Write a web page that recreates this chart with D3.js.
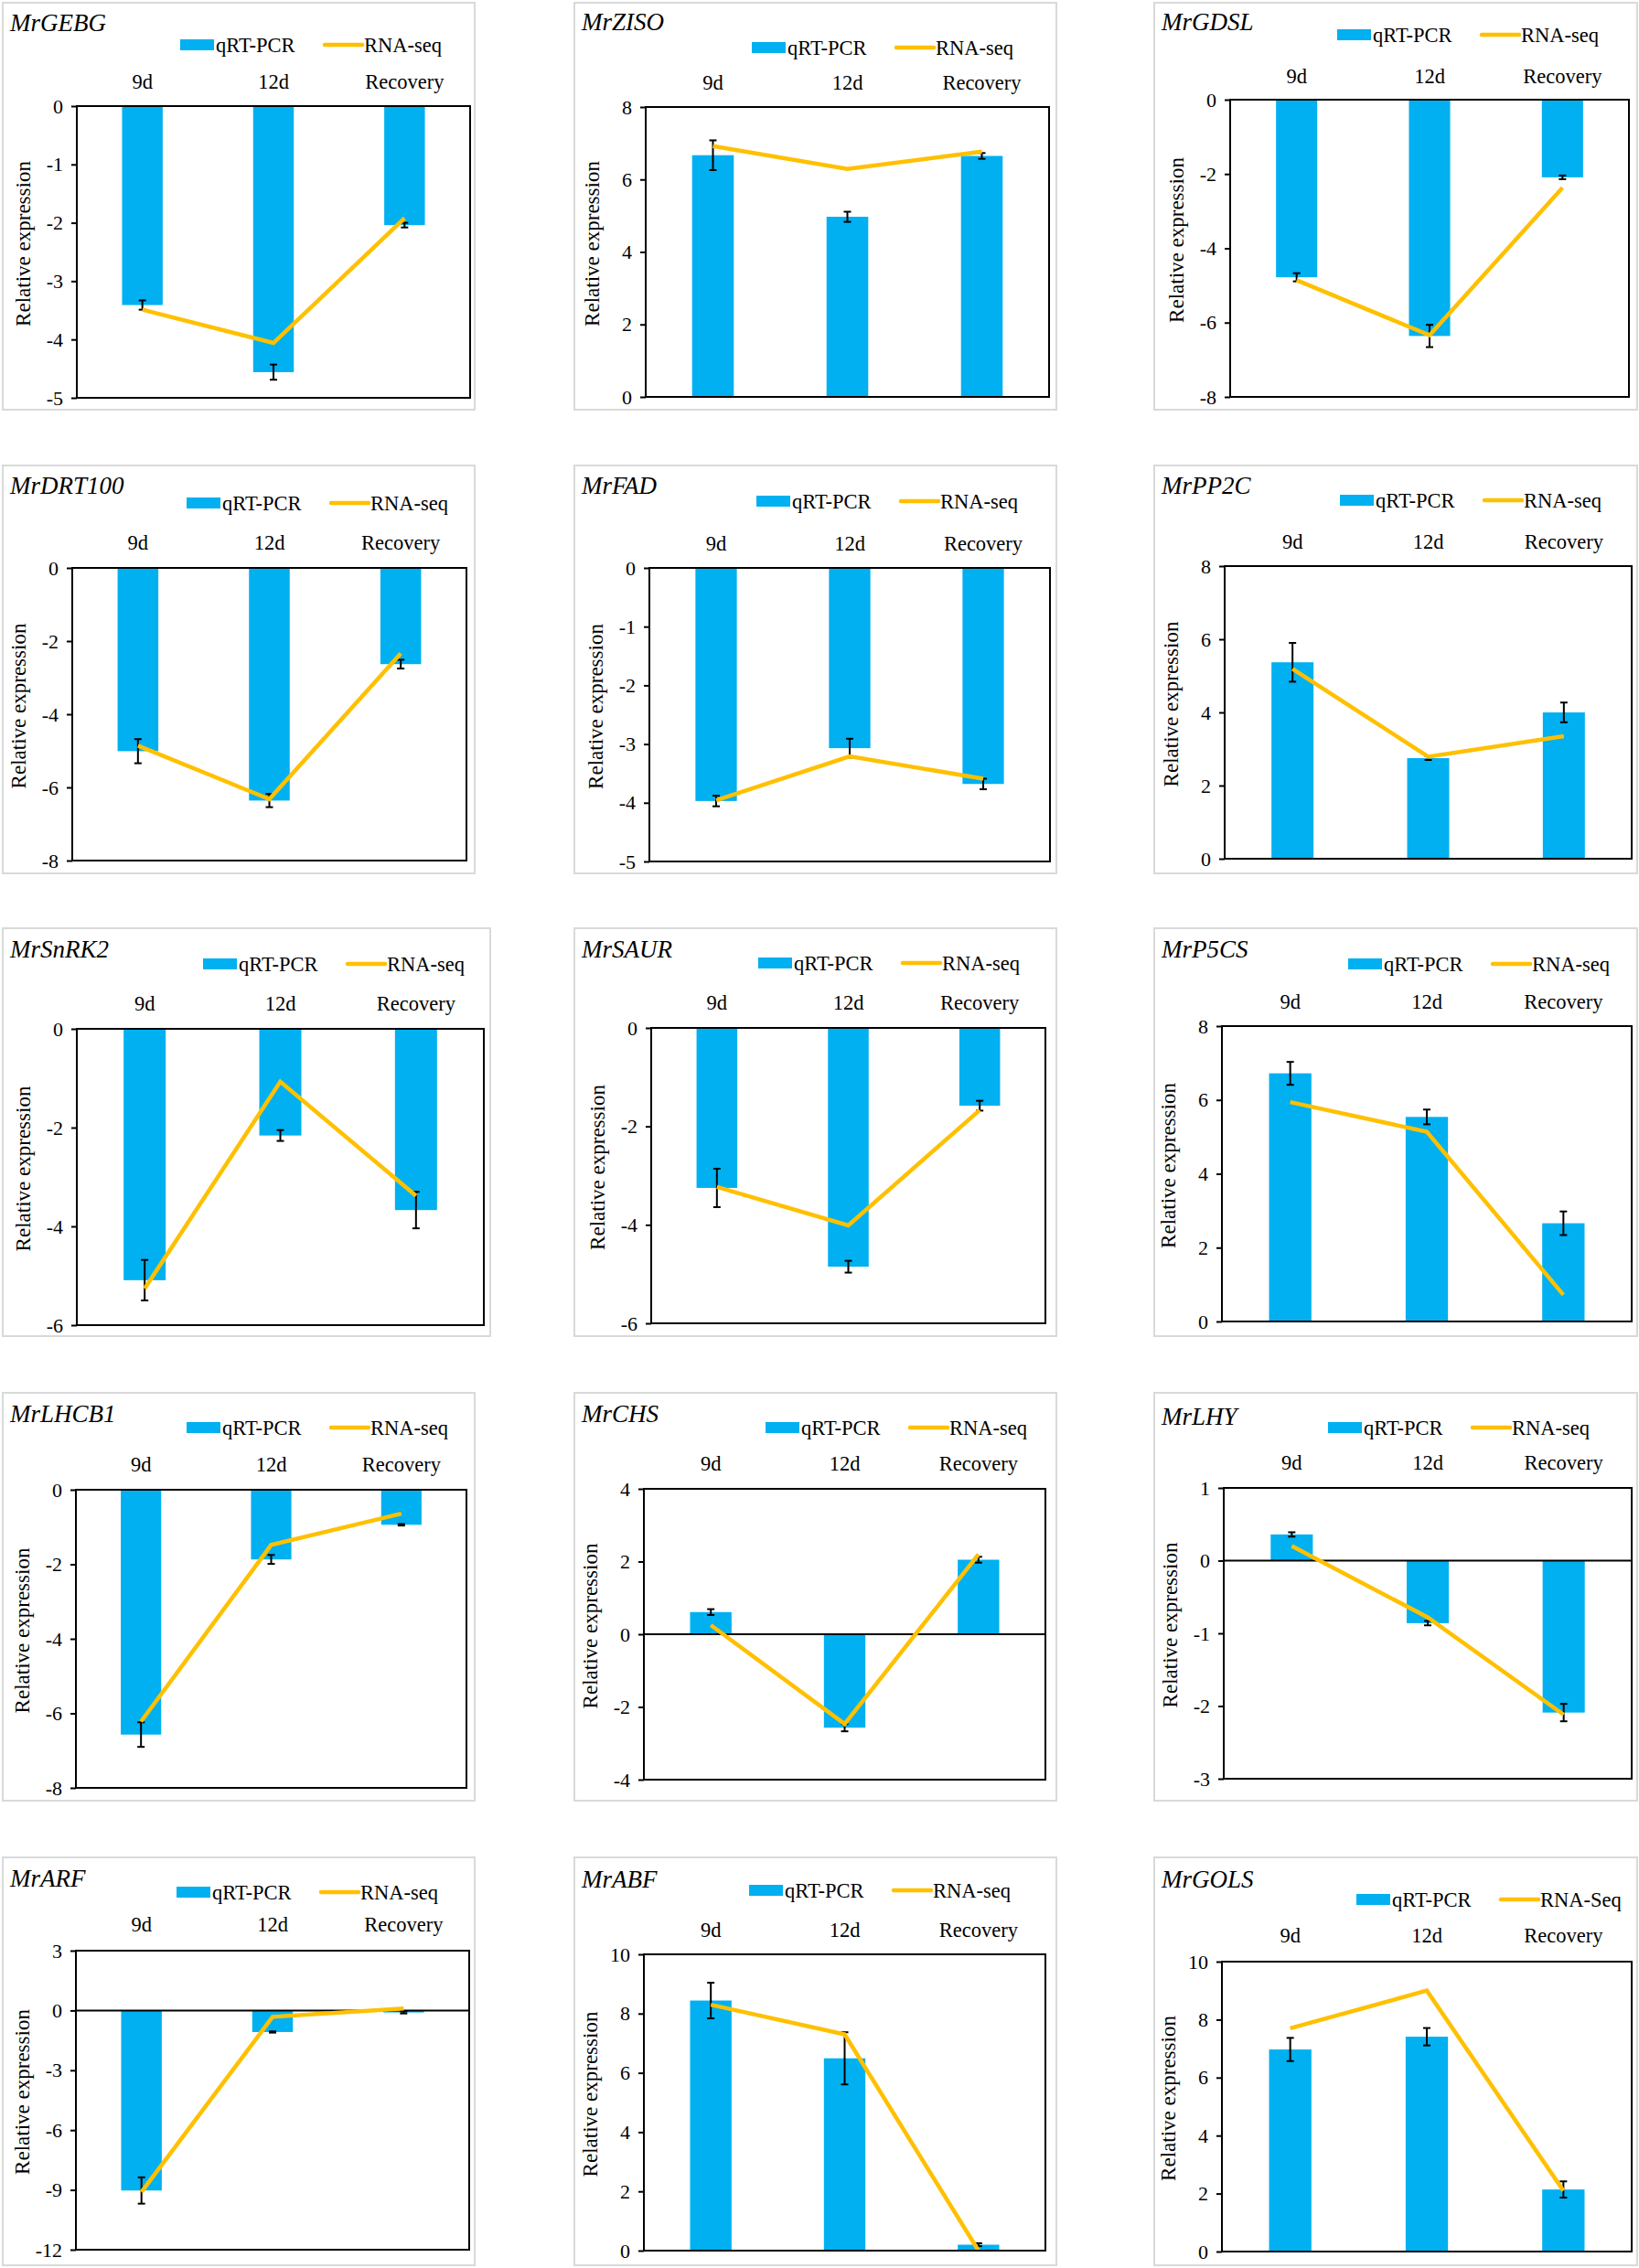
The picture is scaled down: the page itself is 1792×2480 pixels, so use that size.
<!DOCTYPE html>
<html><head><meta charset="utf-8">
<script src="https://cdn.jsdelivr.net/npm/d3@7"></script>
<style>body{margin:0;background:#fff}</style>
</head><body><svg id="c" width="1792" height="2480"></svg>
<script>
// ---------- DATA ----------
const genes = ["MrGEBG","MrZISO","MrGDSL","MrDRT100","MrFAD","MrPP2C","MrSnRK2","MrSAUR","MrP5CS","MrLHCB1","MrCHS","MrLHY","MrARF","MrABF","MrGOLS"];
const categories = ["9d","12d","Recovery"];
const qrtValues = [
  [-3.41,-4.56,-2.04],[6.67,4.97,6.65],[-4.78,-6.36,-2.09],
  [-5.01,-6.36,-2.63],[-3.97,-3.07,-3.68],[5.37,2.75,4.00],
  [-5.09,-2.16,-3.67],[-3.25,-4.85,-1.58],[6.72,5.54,2.66],
  [-6.57,-1.87,-0.94],[0.61,-2.57,2.05],[0.36,-0.86,-2.09],
  [-9.03,-1.08,-0.10],[8.44,6.49,0.20],[6.97,7.41,2.14]
];
const qrtErrors = [
  [0.08,0.13,0.04],[0.41,0.14,0.08],[0.11,0.30,0.05],
  [0.33,0.18,0.12],[0.09,0.16,0.09],[0.53,0.05,0.27],
  [0.41,0.11,0.37],[0.39,0.12,0.10],[0.31,0.20,0.32],
  [0.33,0.12,0.02],[0.08,0.10,0.08],[0.03,0.03,0.12],
  [0.66,0.03,0.05],[0.60,0.88,0.05],[0.40,0.30,0.28]
];
const rnaValues = [
  [-3.49,-4.06,-1.92],[6.92,6.29,6.77],[-4.86,-6.34,-2.37],
  [-4.86,-6.32,-2.34],[-3.96,-3.21,-3.59],[5.19,2.79,3.35],
  [-5.26,-1.07,-3.38],[-3.23,-4.01,-1.67],[5.94,5.14,0.72],
  [-6.22,-1.48,-0.64],[0.25,-2.47,2.20],[0.20,-0.78,-2.12],
  [-9.10,-0.32,0.10],[8.30,7.30,0.00],[7.70,9.00,2.10]
];
const yMin  = [-5,0,-8,-8,-5,0,-6,-6,0,-8,-4,-3,-12,0,0];
const yMax  = [0,8,0,0,0,8,0,0,8,0,4,1,3,10,10];
const yStep = [1,2,2,2,1,2,2,2,2,2,2,1,3,2,2];
const barLabel = "qRT-PCR";
const lineLabels = ["RNA-seq","RNA-seq","RNA-seq","RNA-seq","RNA-seq","RNA-seq","RNA-seq","RNA-seq","RNA-seq","RNA-seq","RNA-seq","RNA-seq","RNA-seq","RNA-seq","RNA-Seq"];
const yTitle = "Relative expression";

// ---------- LAYOUT (pixels) ----------
// [bx0,by0,bx1,by1, px0,py0,px1,py1, legendX, legendY, labelY, titleY]
const layout = [
  [3,3,519,448,     84,116,514,435,    197,49,97,34],
  [628,3,1155,448,  706,117,1147,434,  822,52,98,33],
  [1262,3,1790,448, 1345,109,1781,434, 1462,38,91,33],
  [3,509,519,955,   79,621,510,941,    204,550,601,540],
  [628,509,1155,955,710,621,1148,942,  827,548,602,540],
  [1262,509,1790,955,1339,619,1784,939,1465,547,600,540],
  [3,1015,536,1461, 84,1125,529,1449,  222,1054,1105,1047],
  [628,1015,1155,1461,712,1124,1143,1447,829,1053,1104,1047],
  [1262,1015,1790,1461,1336,1122,1784,1445,1474,1054,1103,1047],
  [3,1523,519,1969, 83,1629,510,1955,  204,1561,1609,1555],
  [628,1523,1155,1969,704,1628,1143,1946,837,1561,1608,1555],
  [1262,1523,1790,1969,1338,1627,1784,1945,1452,1561,1607,1558],
  [3,2031,519,2477, 83,2133,513,2460,  193,2069,2112,2063],
  [628,2031,1155,2477,704,2137,1143,2461,819,2067,2118,2064],
  [1262,2031,1790,2477,1336,2145,1784,2462,1483,2077,2124,2064]
];

const BLUE = "#00B0F0", GOLD = "#FFC000";
const FONT = "'Liberation Serif','Times New Roman',serif";
const svg = d3.select("#c");
svg.append("rect").attr("width",1792).attr("height",2480).attr("fill","#fff");

genes.forEach((gene, i) => {
  const [bx0,by0,bx1,by1,px0,py0,px1,py1,lx,ly,labY,titY] = layout[i];
  const g = svg.append("g");
  // panel border
  g.append("rect").attr("x",bx0).attr("y",by0).attr("width",bx1-bx0).attr("height",by1-by0)
    .attr("fill","#fff").attr("stroke","#d9d9d9").attr("stroke-width",2);
  // title
  g.append("text").attr("x",bx0+8).attr("y",titY).text(gene)
    .attr("font-family",FONT).attr("font-style","italic").attr("font-size",27).attr("fill","#000");
  // legend
  g.append("rect").attr("x",lx).attr("y",ly-6).attr("width",37).attr("height",12).attr("fill",BLUE);
  g.append("text").attr("x",lx+39).attr("y",ly+8).text(barLabel)
    .attr("font-family",FONT).attr("font-size",22.5).attr("fill","#000");
  g.append("line").attr("x1",lx+158).attr("x2",lx+199).attr("y1",ly).attr("y2",ly)
    .attr("stroke",GOLD).attr("stroke-width",4.5).attr("stroke-linecap","round");
  g.append("text").attr("x",lx+201).attr("y",ly+8).text(lineLabels[i])
    .attr("font-family",FONT).attr("font-size",22.5).attr("fill","#000");

  const x = d3.scaleBand().domain(categories).range([px0,px1]).padding(0);
  const y = d3.scaleLinear().domain([yMin[i],yMax[i]]).range([py1,py0]);
  const bw = x.bandwidth()*0.31;
  const cx = c => x(c)+x.bandwidth()/2;
  const rows = categories.map((c,j)=>({c, v:qrtValues[i][j], e:qrtErrors[i][j], r:rnaValues[i][j]}));

  // category labels on top
  g.selectAll("text.cat").data(categories).join("text").attr("class","cat")
    .attr("x",d=>cx(d)).attr("y",labY).attr("text-anchor","middle").text(d=>d)
    .attr("font-family",FONT).attr("font-size",22.5).attr("fill","#000");

  // bars
  g.selectAll("rect.bar").data(rows).join("rect").attr("class","bar")
    .attr("x",d=>cx(d.c)-bw/2).attr("width",bw)
    .attr("y",d=>y(Math.max(0,d.v))).attr("height",d=>Math.abs(y(d.v)-y(0)))
    .attr("fill",BLUE);

  // error bars
  const eb = g.selectAll("g.err").data(rows).join("g").attr("class","err")
    .attr("stroke","#000").attr("stroke-width",2);
  eb.append("line").attr("x1",d=>cx(d.c)).attr("x2",d=>cx(d.c))
    .attr("y1",d=>y(d.v-d.e)).attr("y2",d=>y(d.v+d.e));
  eb.append("line").attr("x1",d=>cx(d.c)-4).attr("x2",d=>cx(d.c)+4)
    .attr("y1",d=>y(d.v-d.e)).attr("y2",d=>y(d.v-d.e));
  eb.append("line").attr("x1",d=>cx(d.c)-4).attr("x2",d=>cx(d.c)+4)
    .attr("y1",d=>y(d.v+d.e)).attr("y2",d=>y(d.v+d.e));

  // zero line
  if (yMin[i] < 0 && yMax[i] > 0) {
    g.append("line").attr("x1",px0).attr("x2",px1).attr("y1",y(0)).attr("y2",y(0))
      .attr("stroke","#000").attr("stroke-width",2);
  }

  // RNA-seq line
  g.append("path").datum(rows)
    .attr("d", d3.line().x(d=>cx(d.c)).y(d=>y(d.r)))
    .attr("fill","none").attr("stroke",GOLD).attr("stroke-width",4.5)
    .attr("stroke-linejoin","miter");

  // y axis
  const ticks = d3.range(yMin[i], yMax[i] + yStep[i]/2, yStep[i]);
  const ax = g.append("g").attr("transform",`translate(${px0},0)`)
    .call(d3.axisLeft(y).tickValues(ticks).tickSize(6).tickPadding(9).tickFormat(d=>String(d)));
  ax.select(".domain").remove();
  ax.selectAll(".tick line").attr("stroke","#000").attr("stroke-width",2);
  ax.selectAll(".tick text").attr("font-family",FONT).attr("font-size",22).attr("fill","#000");

  // frame
  g.append("rect").attr("x",px0).attr("y",py0).attr("width",px1-px0).attr("height",py1-py0)
    .attr("fill","none").attr("stroke","#000").attr("stroke-width",2);

  // y title
  const ty = (py0+py1)/2 - 9;
  g.append("text").attr("transform",`translate(${px0-59},${ty}) rotate(-90)`)
    .attr("text-anchor","middle").attr("dy","0.35em").text(yTitle)
    .attr("font-family",FONT).attr("font-size",23).attr("fill","#000");
});
</script>
</body></html>
